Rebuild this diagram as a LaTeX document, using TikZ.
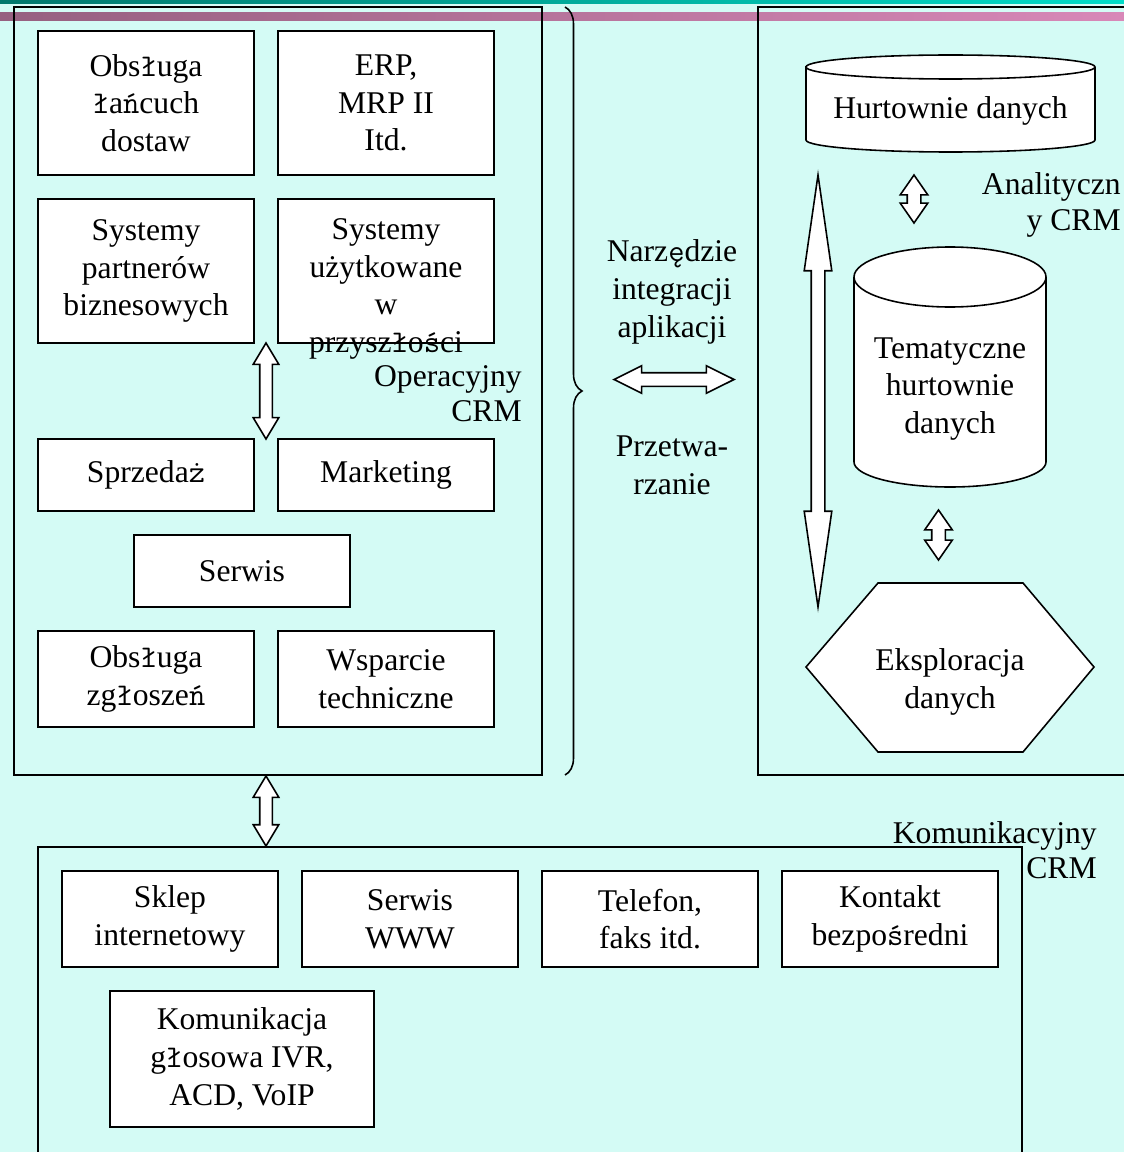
\documentclass[tikz,border=0pt]{standalone}
\usepackage{fontspec}
\setmainfont{Liberation Serif}
% Polish letters set in the fallback face (Latin Modern Mono)
\newcommand\pl[1]{{\ttfamily #1}}
\usetikzlibrary{shapes.arrows,shapes.geometric,decorations.pathreplacing,calc}

\definecolor{bgcyan}{HTML}{D4FBF5}
\definecolor{tealL}{HTML}{00786C}
\definecolor{tealR}{HTML}{00DCC8}
\definecolor{pinkL}{HTML}{966080}
\definecolor{pinkR}{HTML}{D888B8}

\begin{document}
\begin{tikzpicture}[x=0.02cm,y=0.02cm,
  font=\fontsize{18}{21.5}\selectfont,
  every node/.style={inner sep=0pt, align=center},
  frame/.style={draw, line width=0.9pt},
  box/.style={draw, fill=white, line width=0.9pt, minimum width=4.32cm},
  shape line/.style={draw, fill=white, line width=0.9pt},
  lbl/.style={align=right, anchor=east, font=\fontsize{18}{20}\selectfont},
  dbl/.style={double arrow, draw, fill=white, line width=0.9pt,
    inner sep=0.11cm, minimum width=0.48cm, double arrow head extend=0.13cm},
  wide/.style={inner sep=0.12cm, minimum width=0.50cm, double arrow head extend=0.14cm}]

% page background and header bands
\fill[bgcyan] (0,0) rectangle (1124,-1152);
\useasboundingbox (0,0) rectangle (1124,-1152);
\shade[left color=tealL, right color=tealR] (0,0) rectangle (1124,-3.5);
\shade[left color=pinkL, right color=pinkR] (0,-12.5) rectangle (1124,-21);

% three outer frames
\node[frame, minimum width=10.56cm, minimum height=15.36cm] (oper) at (278,-391) {};
\node[frame, minimum width=7.52cm, minimum height=15.36cm] (anal) at (946,-391) {};
\node[frame, minimum width=19.68cm, minimum height=6.26cm] (kom) at (530,-1003.5) {};

% operational CRM
\node[box, minimum height=2.88cm] (obs) at (146,-103) {Obs\pl{ł}uga\\\pl{ł}a\pl{ń}cuch\\dostaw};
\node[box, minimum height=2.88cm] (erp) at (386,-103) {ERP,\\MRP II\\Itd.};
\node[box, minimum height=2.88cm] (sysp) at (146,-271) {Systemy\\partner\'ow\\biznesowych};
\node[box, minimum height=2.88cm] (sysu) at (386,-271) {};
\node (sysut) at (386,-289) {Systemy\\u\.zytkowane\\w\\przysz\pl{ł}o\pl{ś}ci};
\node[box, minimum height=1.44cm] (sprz) at (146,-475) {Sprzeda\pl{ż}};
\node[box, minimum height=1.44cm] (mark) at (386,-475) {Marketing};
\node[box, minimum height=1.44cm] (serw) at (242,-571) {Serwis};
\node[box, minimum height=1.92cm] (zgl) at (146,-679) {Obs\pl{ł}uga\\zg\pl{ł}osze\pl{ń}};
\node[box, minimum height=1.92cm] (wsp) at (386,-679) {Wsparcie\\techniczne};
\node[lbl] (operl) at (522,-394) {Operacyjny\\CRM};

\node[dbl, rotate=90, minimum height=1.92cm, double arrow tip angle=62]
  (a1) at ($(sysp.south east)!0.5!(mark.north west)$) {};

% brace and integration tools
\draw[line width=0.9pt, decorate, decoration={brace, amplitude=0.34cm}]
  (565,-7) -- (565,-775);
\node (narz) at (672,-292) {Narz\pl{ę}dzie\\integracji\\aplikacji};
\node[dbl, wide, minimum height=2.40cm, double arrow tip angle=53] (a3) at (674,-379.5) {};
\node (przet) at (672,-465) {Przetwa-\\rzanie};

% analytical CRM
\filldraw[shape line] (806,-67) -- (806,-140)
  arc[start angle=180, end angle=360, x radius=144.5, y radius=12]
  -- (1095,-67) arc[start angle=0, end angle=180, x radius=144.5, y radius=12] -- cycle;
\draw[line width=0.9pt] (806,-67) arc[start angle=180, end angle=360, x radius=144.5, y radius=12];
\node (hurt) at (950.5,-111) {Hurtownie danych};

\filldraw[shape line] (854,-277) -- (854,-462)
  arc[start angle=180, end angle=360, x radius=96, y radius=25]
  -- (1046,-277) arc[start angle=0, end angle=180, x radius=96, y radius=30] -- cycle;
\draw[line width=0.9pt] (854,-277) arc[start angle=180, end angle=360, x radius=96, y radius=30];
\node (tem) at (950,-389) {Tematyczne\\hurtownie\\danych};

\filldraw[shape line] (806,-667) -- (878,-583) -- (1023,-583) -- (1094,-667)
  -- (1023,-752) -- (878,-752) -- cycle;
\node (eks) at (950,-682) {Eksploracja\\danych};

\node[lbl] (anall) at (1121,-205) {Analityczn\\y CRM};

\node[dbl, wide, rotate=90, minimum height=8.64cm, double arrow tip angle=16.4] (a4) at (818,-391) {};
\node[dbl, wide, rotate=90, minimum height=0.96cm, double arrow tip angle=69.5] (a5) at (914,-199) {};
\node[dbl, wide, rotate=90, minimum height=1.00cm, double arrow tip angle=69.5] (a6) at (938.5,-535) {};

% communication CRM
\node[dbl, rotate=90, minimum height=1.40cm, double arrow tip angle=62]
  (a2) at (266,-811) {};
\node[lbl] (koml) at (1097,-850) {Komunikacyjny\\CRM};
\node[box, minimum height=1.92cm] (sklep) at (170,-919) {Sklep\\internetowy};
\node[box, minimum height=1.92cm] (www) at (410,-919) {Serwis\\WWW};
\node[box, minimum height=1.92cm] (tel) at (650,-919) {Telefon,\\faks itd.};
\node[box, minimum height=1.92cm] (kont) at (890,-919) {Kontakt\\bezpo\pl{ś}redni};
\node[box, minimum width=5.28cm, minimum height=2.72cm] (ivr) at (242,-1059)
  {Komunikacja\\g\pl{ł}osowa IVR,\\ACD, VoIP};
\end{tikzpicture}
\end{document}
